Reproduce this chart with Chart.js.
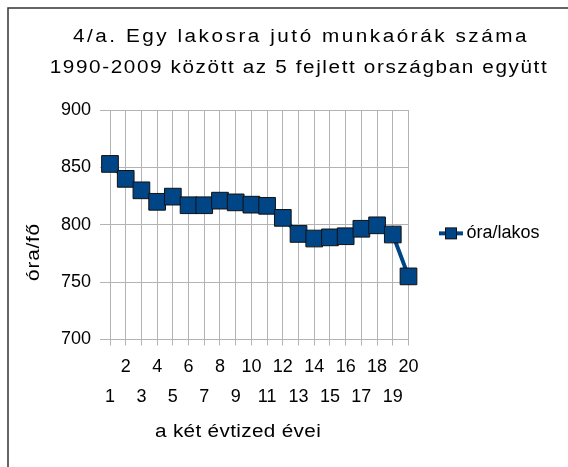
<!DOCTYPE html>
<html>
<head>
<meta charset="utf-8">
<script src="https://cdn.jsdelivr.net/npm/chart.js@4"></script>
<style>
  body { margin: 0; background: #fff; }
  #wrap { width: 568px; height: 467px; }
</style>
</head>
<body>
<div id="wrap"><canvas id="chart"></canvas></div>
<script>
// evek 1..20 (1990-2009)
const years = ['1','2','3','4','5','6','7','8','9','10','11','12','13','14','15','16','17','18','19','20'];
const hoursPerCapita = [853, 840, 830, 820, 824.5, 817, 817, 821, 819.5, 817.5, 816.5, 806, 792, 788, 789, 790, 796.5, 799.5, 791.5, 755];
const yTicks = [700, 750, 800, 850, 900];

const titleLines = ['4/a. Egy lakosra jutó munkaórák száma', '1990-2009 között az 5 fejlett országban együtt'];
const seriesName = 'óra/lakos';
const xTitle = 'a két évtized évei';
const yTitle = 'óra/fő';

const blue = '#004586';
const gridColor = '#b3b3b3';
const fontFamily = '"Liberation Sans", Arial, sans-serif';

// legend icon: line + square
const legendIcon = document.createElement('canvas');
legendIcon.width = 24;
legendIcon.height = 14;
(function () {
    const c = legendIcon.getContext('2d');
    c.strokeStyle = blue;
    c.lineWidth = 4;
    c.beginPath();
    c.moveTo(0, 7);
    c.lineTo(24, 7);
    c.stroke();
    c.fillStyle = blue;
    c.fillRect(6, 1, 12, 12);
    c.strokeStyle = '#111';
    c.lineWidth = 1;
    c.strokeRect(6.5, 1.5, 11, 11);
})();

// text a bit wider than the font, like the original export
function drawWide(ctx, text, x, y, spacing, rot) {
    ctx.save();
    ctx.translate(x, y);
    if (rot) ctx.rotate(rot);
    ctx.scale(1.15, 1);
    ctx.letterSpacing = spacing + 'px';
    ctx.fillText(text, 0, 0);
    ctx.restore();
}

const textPlugin = {
    id: 'texts',
    beforeDraw(chart) {
        const ctx = chart.ctx;
        ctx.save();
        ctx.fillStyle = '#fff';
        ctx.fillRect(0, 0, chart.width, chart.height);
        ctx.strokeStyle = '#333';
        ctx.lineWidth = 1.5;
        ctx.beginPath();
        ctx.moveTo(8, chart.height + 5);
        ctx.lineTo(8, 8);
        ctx.lineTo(chart.width + 5, 8);
        ctx.stroke();
        ctx.restore();
    },
    afterDraw(chart) {
        const ctx = chart.ctx;
        const area = chart.chartArea;
        ctx.save();
        ctx.fillStyle = '#000';
        ctx.font = '18px ' + fontFamily;
        ctx.textAlign = 'center';
        ctx.textBaseline = 'alphabetic';
        drawWide(ctx, titleLines[0], 301, 42, 2.2);
        drawWide(ctx, titleLines[1], 299, 73, 1.4);

        drawWide(ctx, xTitle, area.left + 128, 437, 0.3);

        ctx.textBaseline = 'middle';
        drawWide(ctx, yTitle, area.left - 76, area.top + 142, 0.7, -Math.PI / 2);
        ctx.restore();
    }
};

new Chart(document.getElementById('chart'), {
    type: 'line',
    data: {
        labels: years,
        datasets: [{
            label: seriesName,
            data: hoursPerCapita,
            borderColor: blue,
            borderWidth: 4,
            backgroundColor: blue,
            pointStyle: 'rect',
            pointRadius: 11.8,
            pointHoverRadius: 11.8,
            pointBackgroundColor: blue,
            pointBorderColor: '#111',
            pointBorderWidth: 1,
            tension: 0
        }]
    },
    options: {
        responsive: true,
        maintainAspectRatio: false,
        animation: false,
        layout: {
            padding: { left: 8, top: 110, right: 26, bottom: 0 }
        },
        plugins: {
            title: { display: false },
            tooltip: { enabled: false },
            legend: {
                display: true,
                position: 'right',
                fullSize: false,
                title: {
                    display: true,
                    text: ' ',
                    font: { size: 1 },
                    padding: { top: 8, bottom: 8 }
                },
                labels: {
                    usePointStyle: true,
                    pointStyle: legendIcon,
                    pointStyleWidth: 13,
                    padding: 36,
                    color: '#000',
                    font: { size: 18, family: fontFamily }
                }
            }
        },
        scales: {
            x: {
                type: 'category',
                offset: false,
                afterFit(scale) { scale.height = 127.5; },
                grid: { color: gridColor, tickLength: 6, drawTicks: true },
                border: { color: gridColor },
                ticks: {
                    autoSkip: false,
                    maxRotation: 0,
                    minRotation: 0,
                    padding: 7,
                    color: '#000',
                    font: { size: 18, family: fontFamily, lineHeight: 1.64 },
                    callback(value, index) {
                        return index % 2 === 0 ? ['', years[index]] : [years[index]];
                    }
                }
            },
            y: {
                min: 700,
                max: 900,
                afterFit(scale) { scale.width = 102; },
                afterBuildTicks(scale) { scale.ticks = yTicks.map(v => ({ value: v })); },
                grid: { color: gridColor, tickLength: 10, drawTicks: true },
                border: { color: gridColor },
                ticks: {
                    padding: 9,
                    color: '#000',
                    font: { size: 18, family: fontFamily }
                }
            }
        }
    },
    plugins: [textPlugin]
});
</script>
</body>
</html>
